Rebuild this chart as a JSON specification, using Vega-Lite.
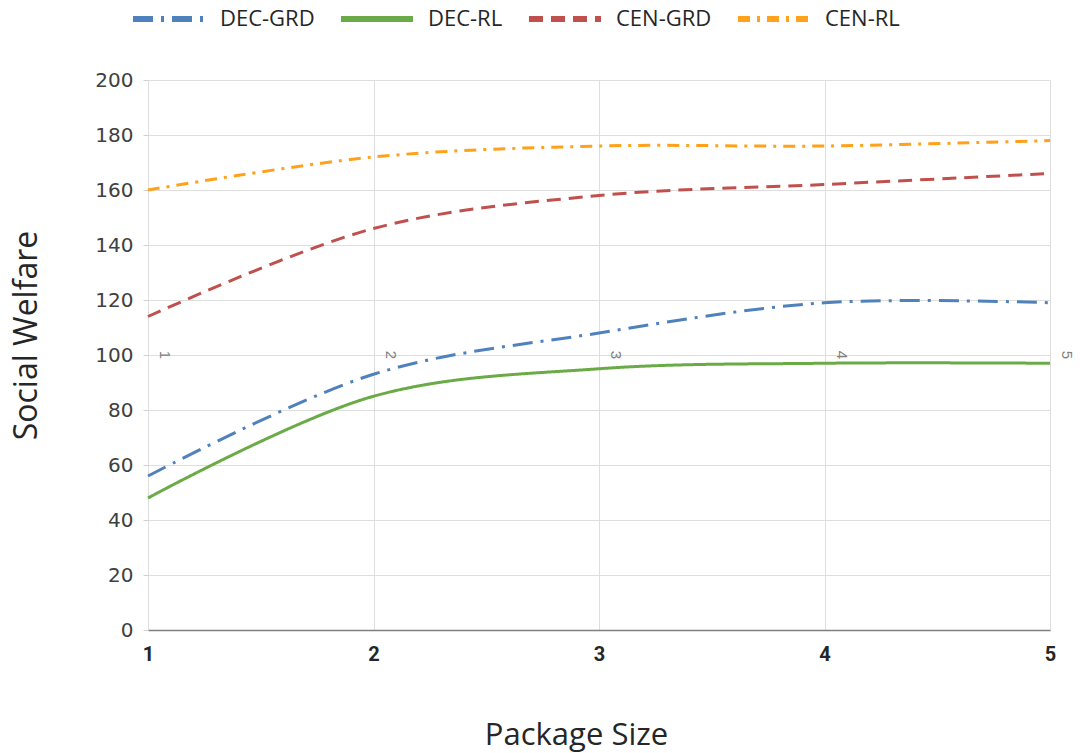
{
  "$schema": "https://vega.github.io/schema/vega-lite/v6.json",
  "width": 902,
  "height": 550,
  "autosize": "none",
  "padding": {"left": 148, "top": 80, "right": 30, "bottom": 123},
  "background": "white",
  "config": {
    "view": {"stroke": null},
    "font": "Open Sans"
  },
  "datasets": {
    "lines": [
      {"size": 1, "value": 56, "series": "DEC-GRD"},
      {"size": 2, "value": 93, "series": "DEC-GRD"},
      {"size": 3, "value": 108, "series": "DEC-GRD"},
      {"size": 4, "value": 119, "series": "DEC-GRD"},
      {"size": 5, "value": 119, "series": "DEC-GRD"},
      {"size": 1, "value": 48, "series": "DEC-RL"},
      {"size": 2, "value": 85, "series": "DEC-RL"},
      {"size": 3, "value": 95, "series": "DEC-RL"},
      {"size": 4, "value": 97, "series": "DEC-RL"},
      {"size": 5, "value": 97, "series": "DEC-RL"},
      {"size": 1, "value": 114, "series": "CEN-GRD"},
      {"size": 2, "value": 146, "series": "CEN-GRD"},
      {"size": 3, "value": 158, "series": "CEN-GRD"},
      {"size": 4, "value": 162, "series": "CEN-GRD"},
      {"size": 5, "value": 166, "series": "CEN-GRD"},
      {"size": 1, "value": 160, "series": "CEN-RL"},
      {"size": 2, "value": 172, "series": "CEN-RL"},
      {"size": 3, "value": 176, "series": "CEN-RL"},
      {"size": 4, "value": 176, "series": "CEN-RL"},
      {"size": 5, "value": 178, "series": "CEN-RL"}
    ],
    "labels": [
      {"size": 1, "t": "1"},
      {"size": 2, "t": "2"},
      {"size": 3, "t": "3"},
      {"size": 4, "t": "4"},
      {"size": 5, "t": "5"}
    ]
  },
  "layer": [
    {
      "data": {"name": "lines"},
      "mark": {"type": "line", "interpolate": "catmull-rom", "strokeWidth": 3},
      "encoding": {
        "x": {
          "field": "size", "type": "quantitative",
          "scale": {"domain": [1, 5], "nice": false},
          "axis": {
            "values": [1, 2, 3, 4, 5], "format": "d",
            "title": "Package Size", "titleFont": "Open Sans", "titleFontSize": 31, "titleFontWeight": "normal", "titleColor": "#262626",
            "titleX": 428, "titleY": 105, "titleBaseline": "middle",
            "labelFont": "Roboto", "labelFontSize": 20, "labelFontWeight": "bold", "labelColor": "#262626",
            "labelFlush": false, "labelPadding": 14, "tickSize": 0, "ticks": false,
            "domainColor": "#7f7f7f", "domainWidth": 1.5,
            "grid": true, "gridColor": "#dedede", "gridWidth": 1
          }
        },
        "y": {
          "field": "value", "type": "quantitative",
          "scale": {"domain": [0, 200], "nice": false},
          "axis": {
            "values": [0, 20, 40, 60, 80, 100, 120, 140, 160, 180, 200],
            "title": "Social Welfare", "titleFont": "Open Sans", "titleFontSize": 32, "titleFontWeight": "normal", "titleColor": "#262626",
            "titleX": -122, "titleY": 255, "titleBaseline": "middle", "titleAngle": -90,
            "labelFont": "DejaVu Sans", "labelFontSize": 20, "labelColor": "#404040",
            "labelPadding": 10, "tickSize": 5, "tickColor": "#d0d0d0",
            "domain": false,
            "grid": true, "gridColor": "#dedede", "gridWidth": 1
          }
        },
        "color": {
          "field": "series", "type": "nominal",
          "scale": {"domain": ["DEC-GRD", "DEC-RL", "CEN-GRD", "CEN-RL"], "range": ["#4f81bd", "#6aab47", "#c0504d", "#ffa11a"]},
          "legend": {
            "title": null, "orient": "none", "legendX": -18, "legendY": -100, "direction": "horizontal",
            "symbolType": "stroke", "symbolSize": 5184, "symbolStrokeWidth": 6,
            "labelFont": "Open Sans", "labelFontSize": 22, "labelColor": "#262626", "labelOffset": 12,
            "columnPadding": 14, "symbolLimit": 0,
            "encode": {
              "symbols": {
                "enter": {
                  "strokeDash": {"signal": "datum.value === 'DEC-GRD' ? [47, 17, 6, 200] : datum.value === 'DEC-RL' ? [0, 46, 24, 200] : datum.value === 'CEN-GRD' ? [0, 8, 24, 16, 24, 200] : [0, 24, 24, 16, 6, 200]"}
                },
                "update": {
                  "strokeDash": {"signal": "datum.value === 'DEC-GRD' ? [47, 17, 6, 200] : datum.value === 'DEC-RL' ? [0, 46, 24, 200] : datum.value === 'CEN-GRD' ? [0, 8, 24, 16, 24, 200] : [0, 24, 24, 16, 6, 200]"}
                }
              }
            }
          }
        },
        "strokeDash": {
          "field": "series", "type": "nominal",
          "scale": {"domain": ["DEC-GRD", "DEC-RL", "CEN-GRD", "CEN-RL"], "range": [[20, 8, 3, 8], [1, 0], [14, 8], [12, 7, 3, 7]]}
        }
      }
    },
    {
      "data": {"name": "labels"},
      "mark": {"type": "text", "angle": 90, "dy": -17, "align": "center", "baseline": "middle", "fontSize": 15, "color": "#808080", "font": "Liberation Sans"},
      "encoding": {
        "x": {"field": "size", "type": "quantitative"},
        "y": {"datum": 100, "type": "quantitative"},
        "text": {"field": "t"}
      }
    }
  ]
}
